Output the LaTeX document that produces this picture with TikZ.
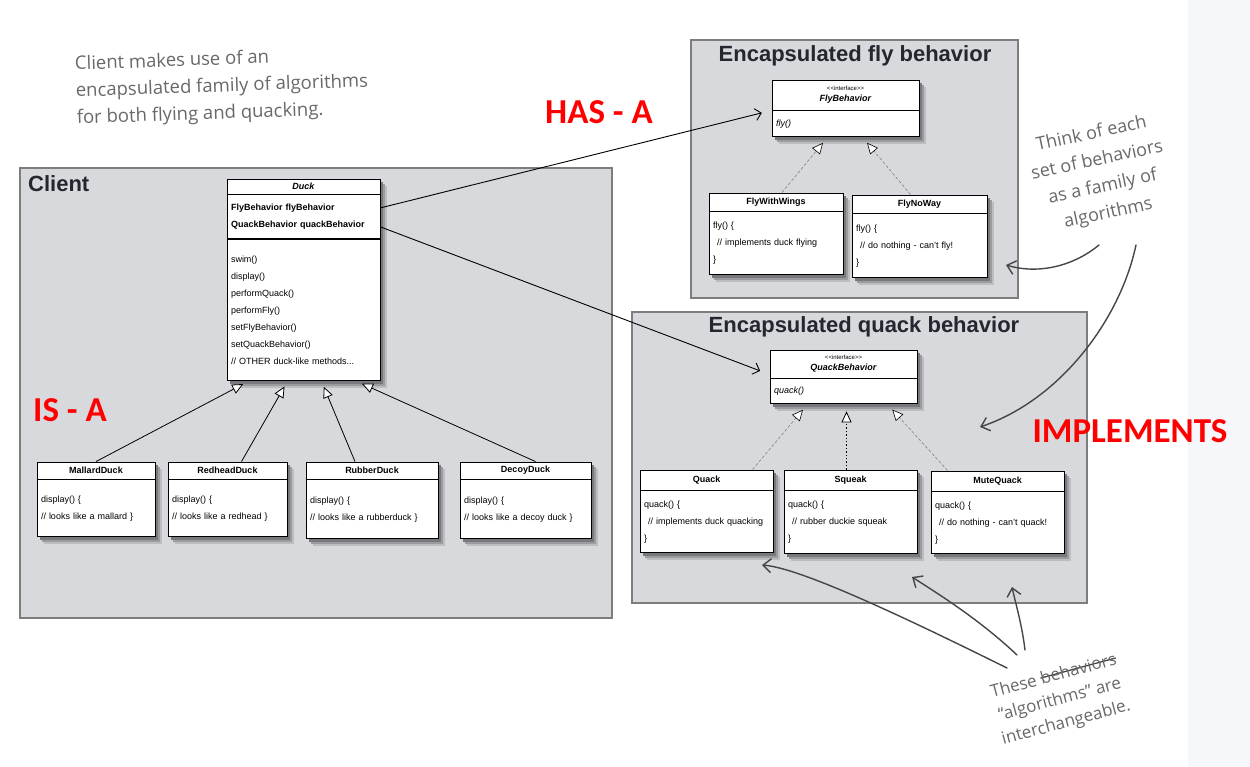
\documentclass[tikz,border=0pt]{standalone}
\usepackage{fontspec}
\setmainfont{Liberation Sans}
\newfontfamily\handfont{Open Sans}
\newfontfamily\labelfont{Carlito}
\usetikzlibrary{arrows.meta,calc,positioning}

\definecolor{boxgray}{RGB}{216,217,220}
\definecolor{boxedge}{RGB}{125,125,125}
\definecolor{handgray}{RGB}{105,105,105}
\definecolor{inkgray}{RGB}{70,70,70}
\definecolor{stripgray}{RGB}{246,247,250}
\definecolor{titleink}{RGB}{38,38,48}
\definecolor{shadeA}{RGB}{188,189,192}
\definecolor{shadeB}{RGB}{155,156,159}
\definecolor{shadeC}{RGB}{120,121,124}

\newcommand{\umlsize}{\fontsize{9}{17}\selectfont}
\newcommand{\stereo}{{\fontsize{6}{8}\selectfont\mdseries {<}{<}interface{>}{>}}}
\newlength{\strikelen}
\newcommand{\strikeword}[1]{\settowidth{\strikelen}{#1}\rlap{\textcolor{inkgray}{\rule[0.35em]{\strikelen}{1.3pt}}}#1}

\pgfdeclarelayer{back}
\pgfdeclarelayer{shade}
\pgfsetlayers{back,shade,main}

\begin{document}
\begin{tikzpicture}[
        x=1pt, y=-1pt,
        group/.style={draw=boxedge, line width=2pt, fill=boxgray, inner sep=0pt},
        grouptitle/.style={font=\fontsize{22}{22}\selectfont\bfseries, text=titleink, inner sep=0pt},
        classhead/.style={draw, line width=0.9pt, fill=white, inner sep=1pt,
            align=center, font=\fontsize{9}{11}\selectfont\bfseries},
        classbody/.style={draw, line width=0.9pt, fill=white, inner xsep=4pt, inner ysep=2pt,
            text width=#1pt, align=left, font=\umlsize},
        isa/.style={draw, line width=0.8pt, shorten >=6pt,
            -{Triangle[fill=white, length=11pt, width=10pt]}},
        realize/.style={draw=gray, densely dashed, line width=0.6pt, shorten >=7pt,
            -{Triangle[color=black, fill=white, length=11pt, width=10pt]}},
        squeakline/.style={draw, dotted, line width=1.4pt, shorten >=7pt,
            -{Triangle[fill=white, length=11pt, width=10pt, line width=0.8pt]}},
        hasa/.style={draw, line width=0.9pt, shorten >=10pt,
            -{Straight Barb[length=6pt, width=12pt]}},
        redlabel/.style={font=\labelfont\bfseries\fontsize{35}{35}\selectfont, text=red, inner sep=0pt},
        note/.style={font=\handfont\fontsize{18}{27}\selectfont, text=handgray, inner sep=0pt},
        handarrow/.style={draw=inkgray, line width=1.4pt, line cap=round,
            -{Straight Barb[length=8pt, width=14pt]}}
      ]

  \useasboundingbox (0,0) rectangle (1250,767);

  \begin{pgfonlayer}{back}
  \fill[white] (0,0) rectangle (1250,767);
  \fill[stripgray] (1188,0) rectangle (1250,767);

  % group boxes
  \node   (client) [group, minimum width=592, minimum height=450] at (316,393) {};
  \node   (flygroup) [group, minimum width=327, minimum height=258] at (854.5,169) {};
  \node   (quackgroup) [group, minimum width=455, minimum height=291] at (859.5,457.5) {};
  \end{pgfonlayer}

  \node   (clienttitle) [grouptitle, anchor=west] at (28,184) {Client};
  \node   (flytitle) [grouptitle] at (855,56) {Encapsulated fly behavior};
  \node   (quacktitle) [grouptitle] at (864,327) {Encapsulated quack behavior};

  % Duck and its subclasses
  \node   (duck) [classhead, minimum width=153, minimum height=15] at (303.5,186.5) {\textit{Duck}};
  \node   (duckattr) [classbody=145, minimum height=44, below=0pt of duck, font=\umlsize\bfseries] {FlyBehavior flyBehavior\\QuackBehavior quackBehavior};
  \node   (duckops) [classbody=145, minimum height=141, below=0pt of duckattr] {swim()\\display()\\performQuack()\\performFly()\\setFlyBehavior()\\setQuackBehavior()\\// OTHER duck-like methods...};

  \node   (mallard) [classhead, minimum width=118, minimum height=17] at (96,470.5) {MallardDuck};
  \node   (mallardops) [classbody=110, minimum height=57, below=0pt of mallard] {display() \{\\// looks like a mallard \}};
  \node   (redhead) [classhead, minimum width=119, minimum height=17] at (227.5,470.5) {RedheadDuck};
  \node   (redheadops) [classbody=111, minimum height=57, below=0pt of redhead] {display() \{\\// looks like a redhead \}};
  \node   (rubber) [classhead, minimum width=132, minimum height=17] at (372,470.5) {RubberDuck};
  \node   (rubberops) [classbody=124, minimum height=59, below=0pt of rubber] {display() \{\\// looks like a rubberduck \}};
  \node   (decoy) [classhead, minimum width=131, minimum height=17] at (525.5,470.5) {DecoyDuck};
  \node   (decoyops) [classbody=123, minimum height=59, below=0pt of decoy] {display() \{\\// looks like a decoy duck \}};

  % fly behaviors
  \node   (flyb) [classhead, minimum width=147, minimum height=30] at (845.5,95) {\stereo\\\textit{FlyBehavior}};
  \node   (flybops) [classbody=139, minimum height=26, below=0pt of flyb] {\textit{fly()}};
  \node   (flywings) [classhead, minimum width=134, minimum height=18] at (776,202) {FlyWithWings};
  \node   (flywingsops) [classbody=126, minimum height=63, below=0pt of flywings] {fly() \{\\\hspace*{4pt}// implements duck flying\\\}};
  \node   (flynoway) [classhead, minimum width=135, minimum height=18] at (919.5,204) {FlyNoWay};
  \node   (flynowayops) [classbody=127, minimum height=64, below=0pt of flynoway] {fly() \{\\\hspace*{4pt}// do nothing - can't fly!\\\}};

  % quack behaviors
  \node   (quackb) [classhead, minimum width=147, minimum height=28] at (843.5,364) {\stereo\\\textit{QuackBehavior}};
  \node   (quackbops) [classbody=139, minimum height=25, below=0pt of quackb] {\textit{quack()}};
  \node   (quack) [classhead, minimum width=133, minimum height=20] at (706.5,480) {Quack};
  \node   (quackops) [classbody=125, minimum height=62, below=0pt of quack] {quack() \{\\\hspace*{4pt}// implements duck quacking\\\}};
  \node   (squeak) [classhead, minimum width=133, minimum height=20] at (850.5,480) {Squeak};
  \node   (squeakops) [classbody=125, minimum height=63, below=0pt of squeak] {quack() \{\\\hspace*{4pt}// rubber duckie squeak\\\}};
  \node   (mutequack) [classhead, minimum width=133, minimum height=20] at (997.5,481) {MuteQuack};
  \node   (mutequackops) [classbody=125, minimum height=62, below=0pt of mutequack] {quack() \{\\\hspace*{4pt}// do nothing - can't quack!\\\}};

  % soft shadows behind the classes
  \begin{pgfonlayer}{shade}
  \foreach \head/\tail in {duck/duckops, mallard/mallardops, redhead/redheadops, rubber/rubberops,
      decoy/decoyops, flyb/flybops, flywings/flywingsops, flynoway/flynowayops,
      quackb/quackbops, quack/quackops, squeak/squeakops, mutequack/mutequackops}
    \foreach \off/\shadecol in {7/shadeA,5/shadeB,3/shadeC}
      \fill[\shadecol] ($(\head.north west)+(\off,\off)$) rectangle ($(\tail.south east)+(\off,\off)$);
  \end{pgfonlayer}

  % inheritance
  \draw[isa] (mallard.north) -- ($(duckops.south)+(-55,0)$);
  \draw[isa] ($(redhead.north)+(14,0)$) -- ($(duckops.south)+(-16,0)$);
  \draw[isa] ($(rubber.north)+(-17,0)$) -- ($(duckops.south)+(18,0)$);
  \draw[isa] ($(decoy.north)+(10,0)$) -- ($(duckops.south)+(53,0)$);

  \draw[realize] ($(flywings.north)+(6,0)$) -- ($(flybops.south)+(-18,0)$);
  \draw[realize] ($(flynoway.north)+(-9,0)$) -- ($(flybops.south)+(17,0)$);

  \draw[realize] ($(quack.north)+(46,0)$) -- ($(quackbops.south)+(-36,0)$);
  \draw[squeakline] ($(squeak.north)+(-4,0)$) coordinate (sq) -- (sq |- quackbops.south);
  \draw[realize] ($(mutequack.north)+(-50,0)$) -- ($(quackbops.south)+(44,0)$);

  % has-a
  \draw[hasa] ($(duckattr.east)+(0,-9)$) -- (flybops.north west);
  \draw[hasa] ($(duckattr.east)+(0,10)$) -- ($(quackb.south west)+(0,-4)$);

  % red labels
  \node   (hasalabel) [redlabel] at (599,112) {HAS - A};
  \node   (isalabel) [redlabel] at (70,410) {IS - A};
  \node   (implementslabel) [redlabel] at (1130,431) {IMPLEMENTS};

  % handwritten notes
  \node   (clientnote) [note, rotate=2, align=left, font=\handfont\fontsize{18.5}{27}\selectfont] at (222,87) {Client makes use of an\\encapsulated family of algorithms\\for both flying and quacking.};
  \node   (familynote) [note, rotate=12, align=center] at (1100,174) {Think of each\\set of behaviors\\as a family of\\algorithms};
  \node   (swapnote) [note, rotate=15, align=center, font=\handfont\fontsize{17}{24}\selectfont] at (1060,700) {These \strikeword{behaviors}\\“algorithms” are\\interchangeable.};

  \coordinate (familyleft) at (1099,245);
  \coordinate (familyright) at (1136,245);
  \coordinate (flypoint) at (1006,265);
  \coordinate (quackpoint) at (980,427);
  \coordinate (swapa) at (1007,668);
  \coordinate (swapb) at (1017,655);
  \coordinate (swapc) at (1025,650);
  \coordinate (quackhit) at (762,565);
  \coordinate (squeakhit) at (912,577);
  \coordinate (mutehit) at (1012,587);

  \draw[handarrow] (familyleft) .. controls (1075,265) and (1040,275) .. (flypoint);
  \draw[handarrow] (familyright) .. controls (1120,320) and (1060,400) .. (quackpoint);
  \draw[handarrow] (swapa) .. controls (900,615) and (800,568) .. (quackhit);
  \draw[handarrow] (swapb) .. controls (980,620) and (940,595) .. (squeakhit);
  \draw[handarrow] (swapc) .. controls (1022,625) and (1016,605) .. (mutehit);

\end{tikzpicture}
\end{document}
